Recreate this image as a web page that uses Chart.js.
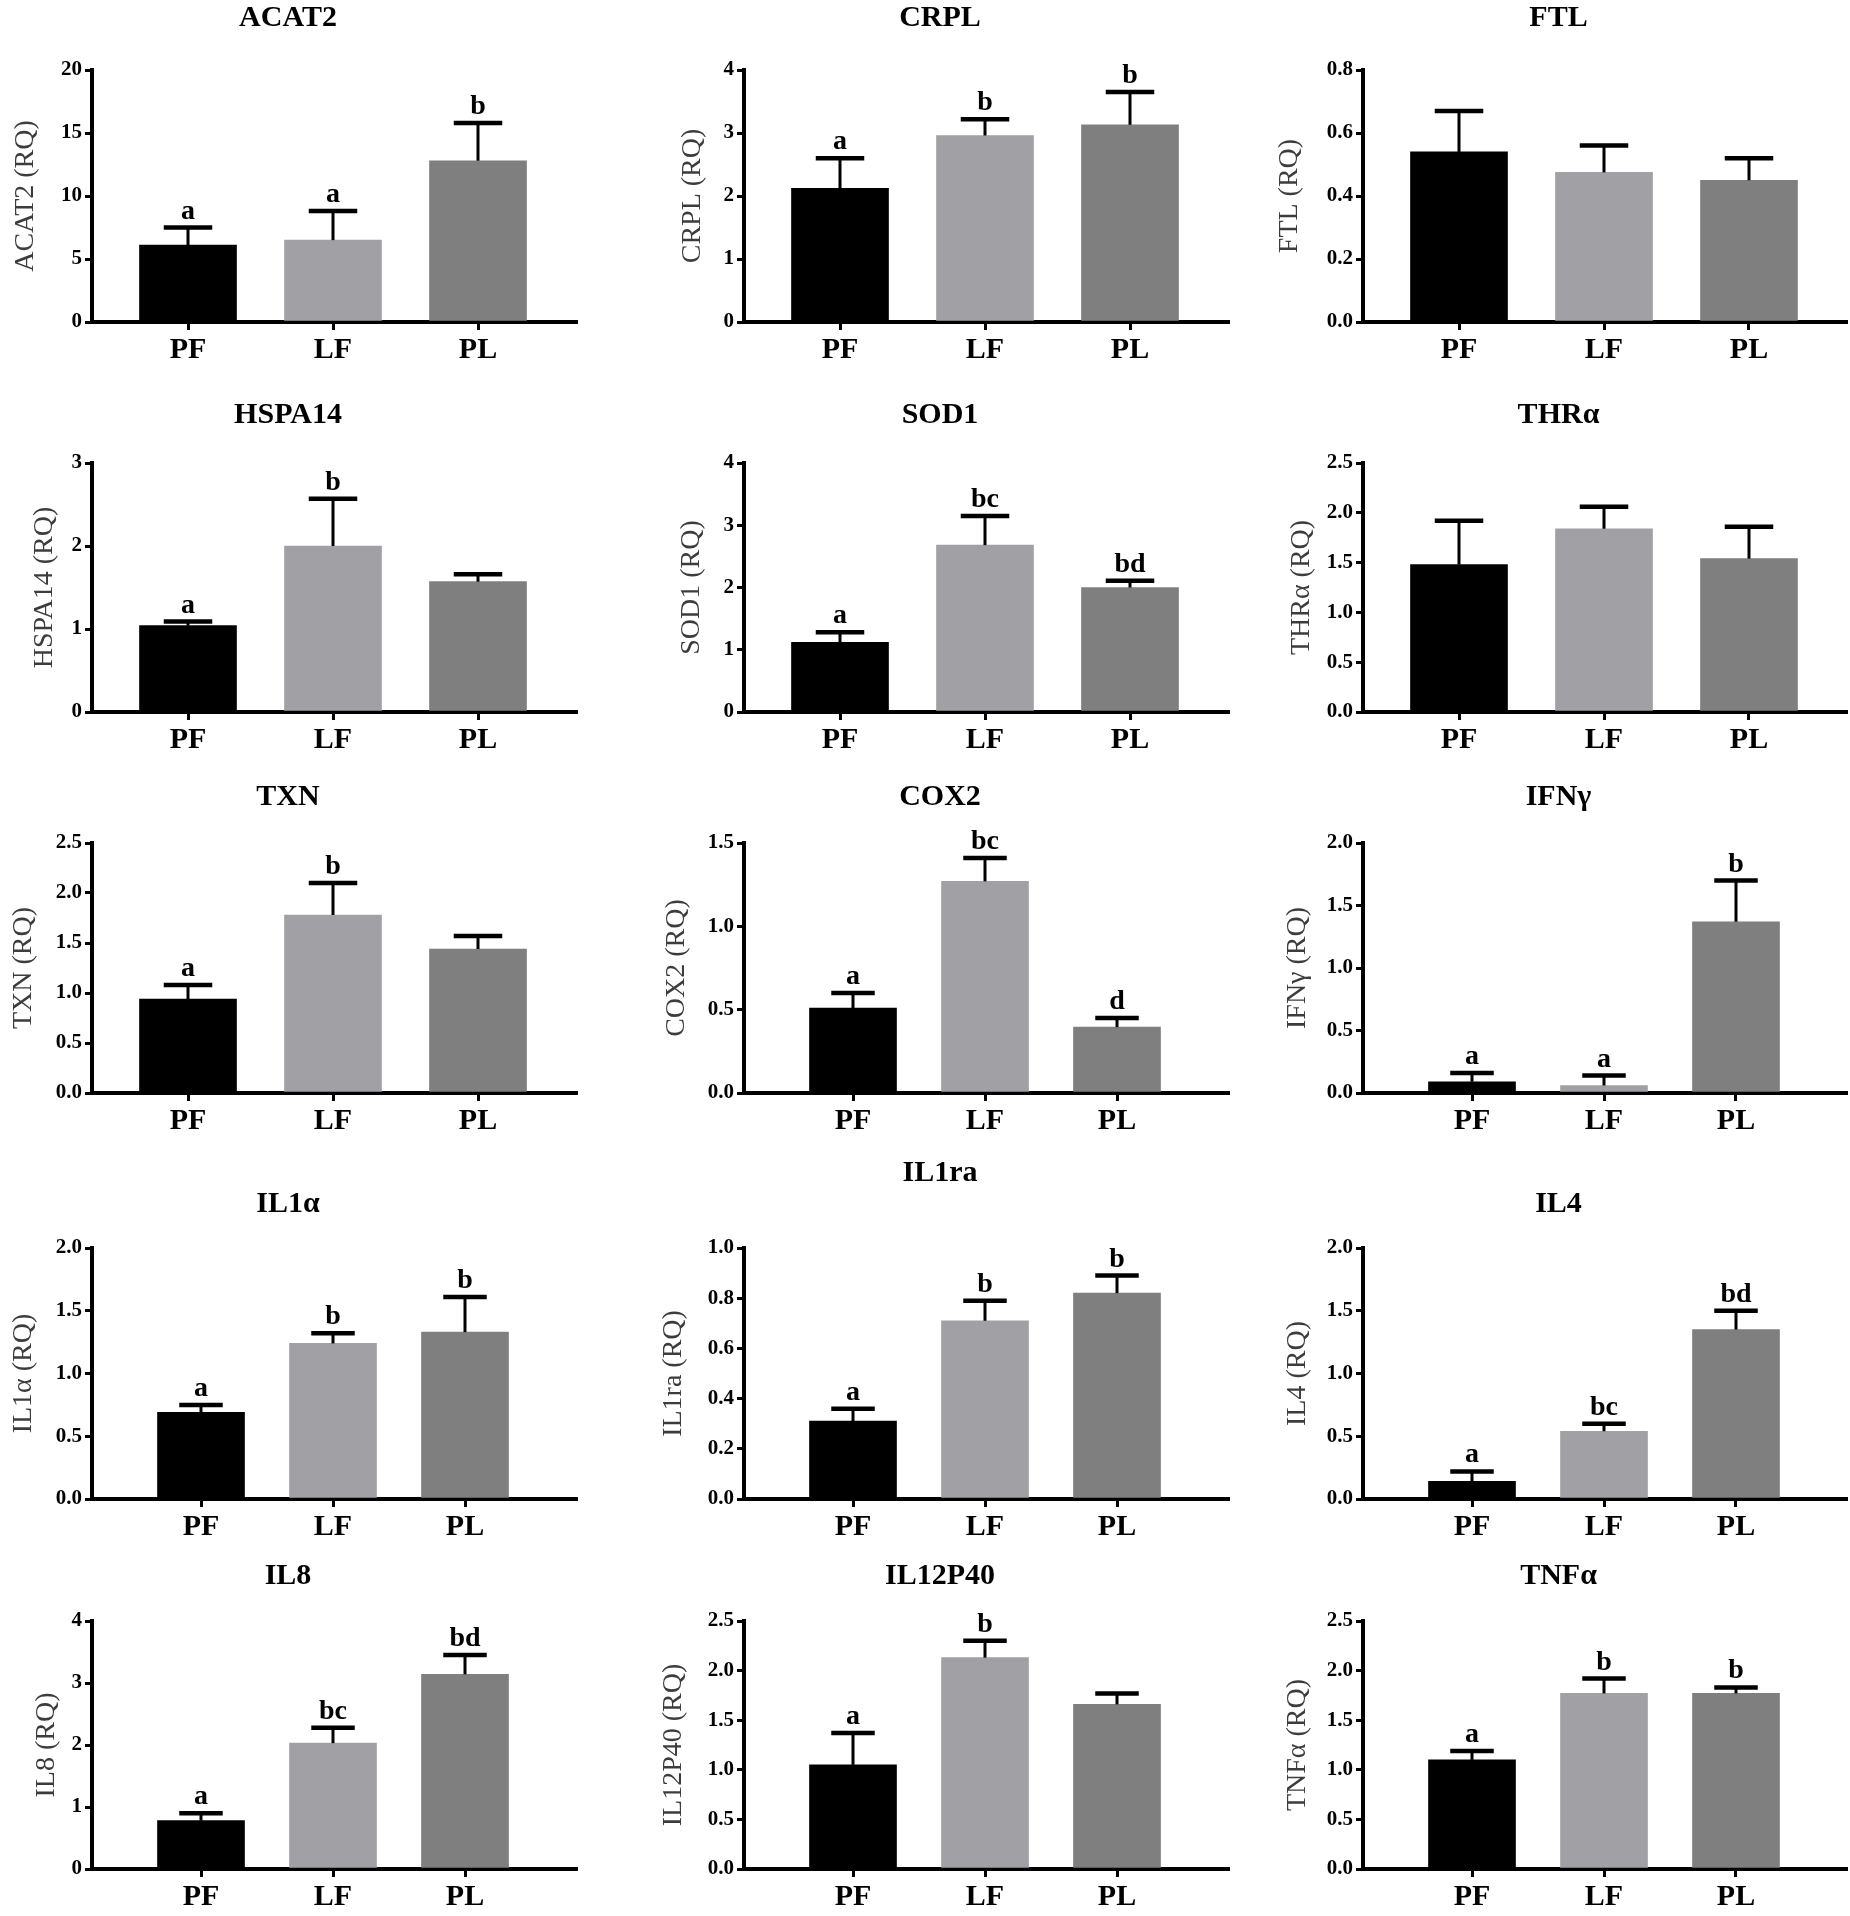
<!DOCTYPE html>
<html>
<head>
<meta charset="utf-8">
<script src="https://cdn.jsdelivr.net/npm/chart.js@4.4.1/dist/chart.umd.min.js"></script>
<style>
  html, body { margin: 0; padding: 0; background: #fff; }
  #fig { position: relative; width: 1850px; height: 1916px; overflow: hidden; }
  #fig canvas { position: absolute; }
</style>
</head>
<body>
<div id="fig"></div>
<script>
// groups and genes
const groups = ['PF', 'LF', 'PL'];
const genes = ['ACAT2', 'CRPL', 'FTL', 'HSPA14', 'SOD1', 'THRα', 'TXN', 'COX2', 'IFNγ',
               'IL1α', 'IL1ra', 'IL4', 'IL8', 'IL12P40', 'TNFα'];

// mean RQ per gene (PF, LF, PL)
const means = [
  [6.1, 6.5, 12.8], [2.12, 2.96, 3.13], [0.54, 0.475, 0.45],
  [1.04, 2.0, 1.57], [1.12, 2.68, 2.0], [1.48, 1.84, 1.54],
  [0.94, 1.78, 1.44], [0.51, 1.27, 0.395], [0.09, 0.06, 1.37],
  [0.69, 1.24, 1.33], [0.31, 0.71, 0.82], [0.14, 0.54, 1.35],
  [0.78, 2.03, 3.14], [1.05, 2.13, 1.66], [1.1, 1.77, 1.77]
];
// top of the error bar (mean + SE)
const uppers = [
  [7.5, 8.8, 15.8], [2.6, 3.22, 3.65], [0.67, 0.56, 0.52],
  [1.09, 2.57, 1.66], [1.28, 3.15, 2.11], [1.92, 2.06, 1.86],
  [1.08, 2.1, 1.57], [0.6, 1.41, 0.45], [0.16, 0.14, 1.7],
  [0.75, 1.32, 1.61], [0.36, 0.79, 0.89], [0.22, 0.6, 1.5],
  [0.9, 2.28, 3.45], [1.37, 2.3, 1.77], [1.19, 1.92, 1.83]
];
// significance letters
const letters = [
  ['a', 'a', 'b'], ['a', 'b', 'b'], ['', '', ''],
  ['a', 'b', ''], ['a', 'bc', 'bd'], ['', '', ''],
  ['a', 'b', ''], ['a', 'bc', 'd'], ['a', 'a', 'b'],
  ['a', 'b', 'b'], ['a', 'b', 'b'], ['a', 'bc', 'bd'],
  ['a', 'bc', 'bd'], ['a', 'b', ''], ['a', 'b', 'b']
];
// y axis ticks
const yMax = [20, 4, 0.8, 3, 4, 2.5, 2.5, 1.5, 2.0, 2.0, 1.0, 2.0, 4, 2.5, 2.5];
const yStep = [5, 1, 0.2, 1, 1, 0.5, 0.5, 0.5, 0.5, 0.5, 0.2, 0.5, 1, 0.5, 0.5];
const yDecimals = [0, 0, 1, 0, 0, 1, 1, 1, 1, 1, 1, 1, 0, 1, 1];

// layout (page pixels)
const colAxis = [92, 744, 1363];
const colEnd = [576, 1228, 1846];
const titleY = [18, 18, 18, 415, 415, 415, 797, 797, 797, 1204, 1173, 1204, 1576, 1576, 1576];
const rowTop = [70, 463, 843, 1248, 1621];
const rowZero = [322, 712, 1093, 1499, 1869];
const yTitleGap = [66, 51, 73, 47, 52, 61, 68, 67, 65, 68, 70, 65, 45, 70, 65];
const barColors = ['#000000', '#a1a1a5', '#7f7f7f'];

const FONT = "'Liberation Serif', 'Times New Roman', serif";
Chart.defaults.font.family = FONT;
Chart.defaults.color = '#000';

// error bars + letters drawn from the y scale
function errorBars(upper, marks, capWidth) {
  return {
    id: 'errorBars',
    afterDatasetsDraw(chart) {
      const ctx = chart.ctx;
      const y = chart.scales.y;
      const bars = chart.getDatasetMeta(0).data;
      ctx.save();
      ctx.strokeStyle = '#000';
      ctx.fillStyle = '#000';
      bars.forEach((bar, j) => {
        const yTop = y.getPixelForValue(upper[j]);
        ctx.lineWidth = 3;
        ctx.beginPath();
        ctx.moveTo(bar.x, bar.y);
        ctx.lineTo(bar.x, yTop);
        ctx.stroke();
        ctx.lineWidth = 4.5;
        ctx.beginPath();
        ctx.moveTo(bar.x - capWidth / 2, yTop);
        ctx.lineTo(bar.x + capWidth / 2, yTop);
        ctx.stroke();
        if (marks[j]) {
          ctx.font = 'bold 28px ' + FONT;
          ctx.textAlign = 'center';
          ctx.textBaseline = 'alphabetic';
          ctx.fillText(marks[j], bar.x, yTop - 9);
        }
      });
      ctx.restore();
    }
  };
}

const fig = document.getElementById('fig');
const Y_W = 92;   // width of the y scale box
const X_H = 50;   // height of the x scale box

genes.forEach((gene, i) => {
  const col = i % 3, row = Math.floor(i / 3);
  const narrow = i >= 7;
  const axisX = colAxis[col];
  const plotW = colEnd[col] - axisX;
  const spacing = narrow ? 132 : 145;
  const first = narrow ? 109 : 96;
  const barW = narrow ? 87 : 97;

  const left = axisX - Y_W;
  const top = titleY[i] - 18;
  const width = Y_W + plotW + 4;
  const height = rowZero[row] - top + X_H;

  const canvas = document.createElement('canvas');
  canvas.width = width;
  canvas.height = height;
  canvas.style.left = left + 'px';
  canvas.style.top = top + 'px';
  canvas.style.width = width + 'px';
  canvas.style.height = height + 'px';
  fig.appendChild(canvas);

  new Chart(canvas.getContext('2d'), {
    type: 'bar',
    data: {
      datasets: [{
        data: groups.map((g, j) => ({ x: j, y: means[i][j] })),
        backgroundColor: barColors,
        barThickness: barW,
        borderWidth: 0
      }]
    },
    options: {
      responsive: false,
      animation: false,
      devicePixelRatio: 1,
      layout: { padding: { left: 0, right: 4, top: 0, bottom: 0 } },
      plugins: {
        legend: { display: false },
        tooltip: { enabled: false },
        title: {
          display: true,
          text: gene,
          font: { size: 30, weight: 'bold', lineHeight: 1.2 },
          color: '#000',
          padding: { top: 0, bottom: rowTop[row] - titleY[i] - 18 }
        }
      },
      scales: {
        x: {
          type: 'linear',
          offset: false,
          min: -first / spacing,
          max: 2 + (plotW - first - 2 * spacing) / spacing,
          afterBuildTicks: s => { s.ticks = groups.map((g, j) => ({ value: j })); },
          afterFit: s => { s.height = X_H; },
          ticks: {
            callback: v => groups[v],
            font: { size: 30, weight: 'bold' },
            color: '#000',
            padding: 2,
            maxRotation: 0
          },
          grid: { display: true, offset: false, drawOnChartArea: false, drawTicks: true, tickLength: 8, lineWidth: 3, color: '#000' },
          border: { display: true, width: 4, color: '#000' }
        },
        y: {
          min: 0,
          max: yMax[i],
          afterFit: s => { s.width = Y_W; },
          ticks: {
            stepSize: yStep[i],
            callback: v => v.toFixed(yDecimals[i]),
            font: { size: 21, weight: 'bold' },
            color: '#000',
            padding: 3
          },
          grid: { display: true, drawOnChartArea: false, drawTicks: true, tickLength: 7, lineWidth: 3, color: '#000' },
          border: { display: true, width: 4, color: '#000' },
          title: {
            display: true,
            text: gene + ' (RQ)',
            font: { size: 28, weight: 'normal', lineHeight: 1.2 },
            color: '#3c3c3c',
            padding: { top: Math.max(0, Y_W - yTitleGap[i] - 16.8), bottom: 0 }
          }
        }
      }
    },
    plugins: [errorBars(uppers[i], letters[i], barW * 0.5)]
  });
});
</script>
</body>
</html>
